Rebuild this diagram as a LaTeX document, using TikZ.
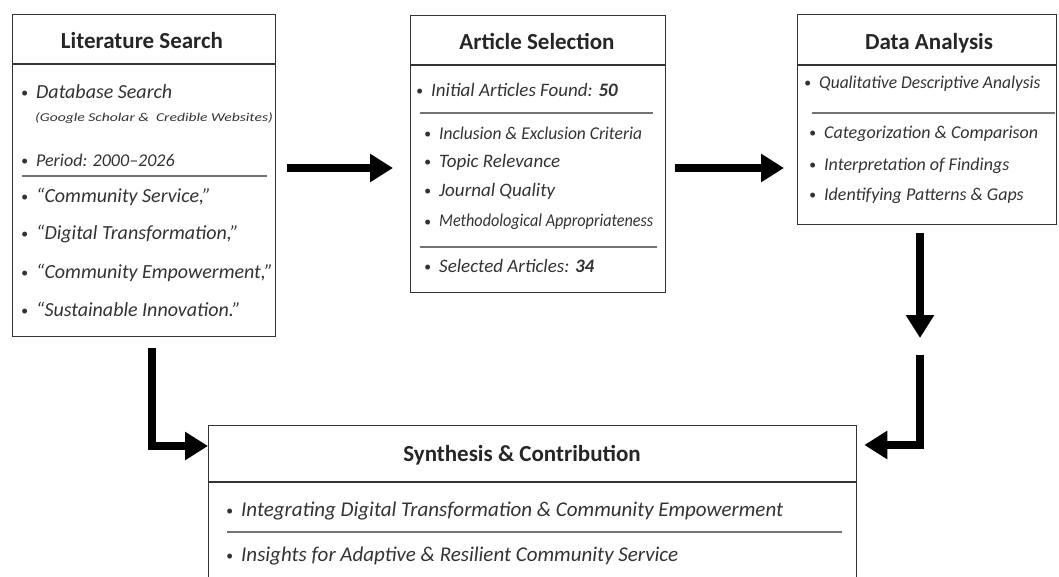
\documentclass[tikz,border=0pt]{standalone}
\usepackage{fontspec}
\setmainfont{Carlito}
\usetikzlibrary{arrows.meta}
\newcommand{\bl}{{\fontsize{14}{14}\selectfont\raisebox{1pt}{•}}\hspace{8pt}}
\begin{document}
\begin{tikzpicture}[x=1pt,y=-1pt,
  box/.style={draw=black!80, line width=1.3pt, fill=white, anchor=north west, inner sep=0pt},
  hdr/.style={draw=black!80, line width=1.3pt},
  sepline/.style={draw=black!55, line width=1.2pt},
  ttl/.style={font=\fontsize{23}{26}\selectfont\bfseries, text=black!85, inner sep=0pt},
  itm/.style={font=\fontsize{18}{20}\selectfont\itshape, text=black!80, anchor=west, inner sep=0pt, text height=12pt, text depth=4pt},
  itmL/.style={itm, font=\fontsize{20}{22}\selectfont\itshape},
  itmM/.style={itm, font=\fontsize{19}{21}\selectfont\itshape},
  itmS/.style={itm, font=\fontsize{21}{23}\selectfont\itshape},
  arr/.style={line width=8pt, draw=black, -{Triangle[length=23pt,width=27pt]}},
]
\clip (0,0) rectangle (1059,577);
\fill[white] (0,0) rectangle (1059,577);

% boxes
\node[box, minimum width=263pt, minimum height=322pt] (ls) at (12,14) {};
\node[box, minimum width=255pt, minimum height=277pt] (as) at (410,15) {};
\node[box, minimum width=259pt, minimum height=210pt] (da) at (797,14) {};
\node[box, minimum width=648pt, minimum height=200pt] (syn) at (208,425) {};

% header dividers
\draw[hdr] (ls.west |- 0,64) -- (ls.east |- 0,64);
\draw[hdr] (as.west |- 0,65) -- (as.east |- 0,65);
\draw[hdr] (da.west |- 0,65) -- (da.east |- 0,65);
\draw[hdr] (syn.west |- 0,482) -- (syn.east |- 0,482);

% separators
\draw[sepline] (22,176) -- (267,176);
\draw[sepline] (420,113) -- (653,113);
\draw[sepline] (420,247) -- (657,247);
\draw[sepline] (812,113) -- (1055,113);
\draw[sepline] (227,532) -- (842,532);

% titles
\node[ttl] (lst) at (142,41) {Literature Search};
\node[ttl] (ast) at (537,42) {Article Selection};
\node[ttl] (dat) at (929,43) {Data Analysis};
\node[ttl] (synt) at (522,455) {Synthesis \& Contribution};

% Literature Search items
\node[itmL] (ls1) at (21,95) {\bl Database Search};
\node[itm, font=\fontsize{12}{14}\selectfont\itshape] (ls2) at (35,118) {\scalebox{1.3}[1]{(Google Scholar \&\ \ Credible Websites)}};
\node[itm] (ls3) at (21,163) {\bl Period: 2000–2026};
\node[itmL] (ls4) at (21,199) {\bl “Community Service,”};
\node[itmL] (ls5) at (21,236) {\bl “Digital Transformation,”};
\node[itmL] (ls6) at (21,274) {\bl “Community Empowerment,”};
\node[itmL] (ls7) at (21,312) {\bl “Sustainable Innovation.”};

% Article Selection items
\node[itmM] (as1) at (416,93) {\bl Initial Articles Found: \textbf{50}};
\node[itm] (as2) at (424,136) {\bl \scalebox{0.97}[1]{Inclusion \& Exclusion Criteria}};
\node[itmM] (as3) at (424,164) {\bl Topic Relevance};
\node[itmM] (as4) at (424,193) {\bl Journal Quality};
\node[itm] (as5) at (424,223) {\bl \scalebox{0.9}[1]{Methodological Appropriateness}};
\node[itmM] (as6) at (424,268) {\bl Selected Articles: \textbf{34}};

% Data Analysis items
\node[itm] (da1) at (804,85) {\bl \scalebox{0.97}[1]{Qualitative Descriptive Analysis}};
\node[itm] (da2) at (809,135) {\bl Categorization \& Comparison};
\node[itm] (da3) at (809,167) {\bl Interpretation of Findings};
\node[itm] (da4) at (809,197) {\bl Identifying Patterns \& Gaps};

% Synthesis items
\node[itmS] (sy1) at (226,512) {\bl Integrating Digital Transformation \& Community Empowerment};
\node[itmS] (sy2) at (226,557) {\bl Insights for Adaptive \& Resilient Community Service};

% arrows
\coordinate (d3) at (920,338);
\coordinate (k1) at (920,355);
\draw[arr, shorten <=11pt, shorten >=17pt] (ls.east |- 0,168) -- (as.west |- 0,168);
\draw[arr, shorten <=9pt, shorten >=13pt] (as.east |- 0,168) -- (da.west |- 0,168);
\draw[arr, shorten <=8pt] (da.south -| d3) -- (d3);
\draw[arr, shorten >=7pt] (k1) |- (syn.east |- 0,445);
\draw[arr, shorten <=11pt] (ls.south -| 152,0) |- (syn.west |- 0,446);
\end{tikzpicture}
\end{document}
